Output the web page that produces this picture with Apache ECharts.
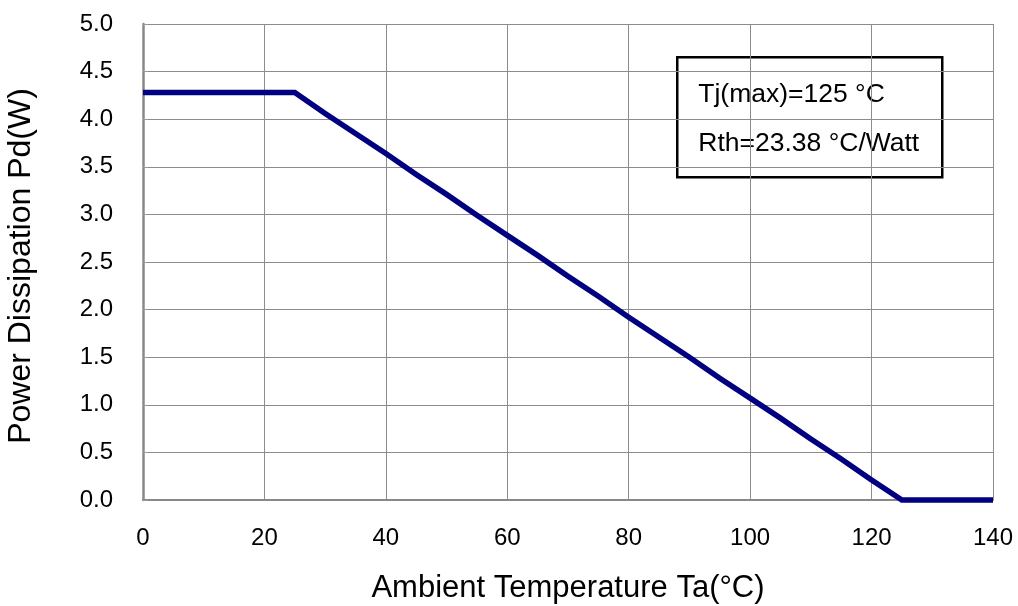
<!DOCTYPE html>
<html>
<head>
<meta charset="utf-8">
<script src="https://cdn.jsdelivr.net/npm/echarts@6/dist/echarts.min.js"></script>
<style>
  html, body { margin: 0; padding: 0; background: #fff; }
  #chart { width: 1018px; height: 606px; }
</style>
</head>
<body>
<div id="chart"></div>
<script>
// Ambient temperature (°C) sample points
const temperature = [0, 5, 10, 15, 20, 25, 30, 35, 40, 45, 50, 55, 60, 65, 70,
  75, 80, 85, 90, 95, 100, 105, 110, 115, 120, 125, 130, 135, 140];
// Allowed power dissipation (W) at each temperature
const powerDissipation = [4.28, 4.28, 4.28, 4.28, 4.28, 4.28, 4.06, 3.85, 3.64, 3.42,
  3.21, 2.99, 2.78, 2.57, 2.35, 2.14, 1.92, 1.71, 1.50, 1.28, 1.07, 0.86, 0.64,
  0.43, 0.21, 0.00, 0.00, 0.00, 0.00];
// Annotation text
const noteLines = ['Tj(max)=125 \u00B0C', 'Rth=23.38 \u00B0C/Watt'];

const font = '"Liberation Sans", Arial, sans-serif';
const chart = echarts.init(document.getElementById('chart'), null, { renderer: 'canvas' });

chart.setOption({
  animation: false,
  backgroundColor: '#ffffff',
  grid: {
    left: 143, top: 24, width: 850, height: 476, show: false,
    containLabel: false, outerBoundsMode: 'none'
  },
  xAxis: {
    type: 'value', min: 0, max: 140, interval: 20,
    name: 'Ambient Temperature Ta(\u00B0C)',
    nameLocation: 'middle', nameGap: 73,
    nameTextStyle: { fontFamily: font, fontSize: 31, color: '#000' },
    axisLine: { show: true, lineStyle: { color: '#888', width: 2 } },
    axisTick: { show: false },
    axisLabel: { fontFamily: font, fontSize: 24, color: '#000', margin: 26 },
    splitLine: { show: true, lineStyle: { color: '#8c8c8c', width: 1 } }
  },
  yAxis: {
    type: 'value', min: 0, max: 5, interval: 0.5,
    name: 'Power Dissipation Pd(W)',
    nameLocation: 'middle', nameGap: 106, nameRotate: 90,
    nameTextStyle: { fontFamily: font, fontSize: 32, color: '#000', padding: [0, 8, 0, 0] },
    axisLine: { show: true, lineStyle: { color: '#888', width: 2.5 } },
    axisTick: { show: true, inside: true, length: 5, lineStyle: { color: '#999' } },
    axisLabel: {
      fontFamily: font, fontSize: 24, color: '#000', margin: 30,
      formatter: v => v.toFixed(1)
    },
    splitLine: { show: true, lineStyle: { color: '#8c8c8c', width: 1 } }
  },
  series: [{
    type: 'line',
    data: temperature.map((t, i) => [t, powerDissipation[i]]),
    showSymbol: false,
    lineStyle: { color: '#000080', width: 5.5, join: 'miter' },
    clip: false,
    z: 3
  }],
  graphic: [{
    type: 'group', left: 676, top: 56, z: 10,
    children: [
      { type: 'rect', shape: { x: 1, y: 1, width: 265, height: 120 },
        style: { fill: '#fff', stroke: '#000', lineWidth: 2.5 } },
      { type: 'text', x: 22, y: 38,
        style: { text: noteLines[0], font: '26.5px ' + font, fill: '#000', verticalAlign: 'middle' } },
      { type: 'text', x: 22, y: 87,
        style: { text: noteLines[1], font: '26.5px ' + font, fill: '#000', verticalAlign: 'middle' } }
    ]
  }]
});
</script>
</body>
</html>
